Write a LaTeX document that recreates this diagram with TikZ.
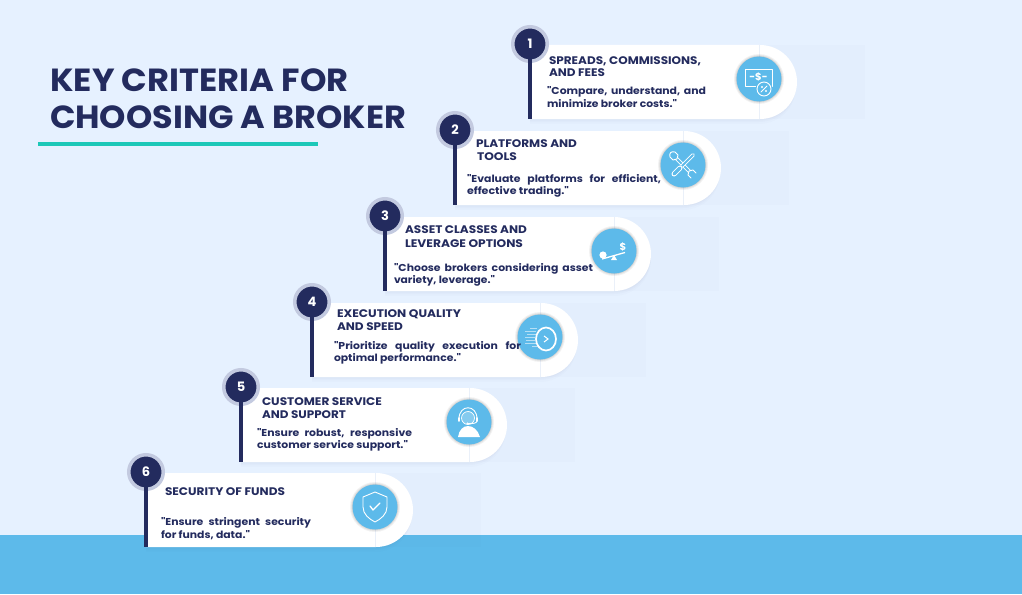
\documentclass[tikz,border=0pt]{standalone}
\usepackage{fontspec}
\usepackage{graphicx}
\setmainfont{Poppins}[Ligatures=TeXOff]
\definecolor{bgc}{HTML}{E6F1FF}
\definecolor{navy}{HTML}{232B5E}
\definecolor{halo}{HTML}{C3CAE0}
\definecolor{sky}{HTML}{5DBAEA}
\definecolor{teal2}{HTML}{1CC8B8}
\definecolor{seam}{HTML}{EAF0F9}
\tikzset{
  numdot/.style={circle,fill=navy,draw=halo,line width=3.5pt,minimum size=34.5pt,inner sep=0pt,outer sep=0pt,text=white,font=\bfseries\fontsize{13}{13}\selectfont},
  stem/.style={draw=navy,line width=4pt,shorten <=-2pt},
  headtxt/.style={anchor=base west,inner sep=0pt,outer sep=0pt,text=navy,font=\bfseries\fontsize{11}{11}\selectfont},
  bodytxt/.style={anchor=base west,inner sep=0pt,outer sep=0pt,text=navy,font=\bfseries\fontsize{10}{10}\selectfont},
  titletxt/.style={anchor=base west,inner sep=0pt,outer sep=0pt,text=navy,font=\bfseries\fontsize{32}{32}\selectfont},
  ico/.style={draw=white,line width=.9pt,line cap=round,line join=round},
  ghostbox/.style={fill=navy,opacity=.012}
}
% name, stem x, top, right end, icon x
\newcommand{\stepcard}[5]{%
  \fill[ghostbox] (#4-37,#3) rectangle (#4+68,#3+74);
  \foreach \o/\a in {5/.012,3/.015,1.5/.02}{
    \fill[navy,opacity=\a] (#2,#3+\o) -- (#5,#3+\o) arc[start angle=-90,end angle=90,radius=37] -- (#2,#3+74+\o) -- cycle;
  }
  \fill[white] (#2,#3) -- (#5,#3) -- (#4-37,#3) arc[start angle=-90,end angle=90,radius=37] -- (#2,#3+74) -- cycle;
  \draw[seam,line width=.6pt] (#5,#3) -- (#5,#3+74);
  \node[numdot] (num#1) at (#2,#3-1) {#1};
  \coordinate (base#1) at (#2,#3+74);
  \draw[stem] (num#1.south) -- (base#1);
  \foreach \r/\a in {25/.05,24/.06,23/.08}{\fill[black,opacity=\a] (#5,#3+34) circle[radius=\r];}
  \fill[sky] (#5,#3+34) circle[radius=22.5];
}
\newcommand{\hl}[5]{\node[headtxt] (#1) at (#2,#3) {\resizebox{#4pt}{\height}{#5}};}
\newcommand{\bl}[5]{\node[bodytxt] (#1) at (#2,#3) {\resizebox{#4pt}{\height}{#5}};}
\newcommand{\bj}[5]{\node[bodytxt] (#1) at (#2,#3) {\resizebox{#4pt}{\height}{\makebox[\dimexpr#4pt*92/100\relax][s]{#5}}};}
\begin{document}
\begin{tikzpicture}[x=1pt,y=-1pt]
\useasboundingbox (0,0) rectangle (1022,594);
\fill[bgc] (0,0) rectangle (1022,594);
\fill[sky] (0,535) rectangle (1022,594);

\node[titletxt] (title1) at (50.5,92) {\resizebox{298pt}{\height}{KEY CRITERIA FOR}};
\node[titletxt] (title2) at (50,128) {\resizebox{356pt}{\height}{CHOOSING A BROKER}};
\coordinate (ruleL) at (38,144);
\coordinate (ruleR) at (318,144);
\draw[teal2,line width=4pt] (ruleL) -- (ruleR);

\stepcard{1}{530}{45}{797}{759}
\stepcard{2}{455}{131}{721}{683}
\stepcard{3}{385}{217}{651}{614}
\stepcard{4}{312}{303}{578}{540}
\stepcard{5}{241}{388}{507}{469}
\stepcard{6}{146}{473}{413}{375}

% card 1
\hl{h1a}{549}{64}{152}{SPREADS, COMMISSIONS,}
\hl{h1b}{549}{76.5}{56}{AND FEES}
\bj{b1a}{547}{94}{159}{"Compare, understand, and}
\bl{b1b}{547}{107}{130}{minimize broker costs."}
% card 2
\hl{h2a}{476}{147}{101}{PLATFORMS AND}
\hl{h2b}{477}{160}{40}{TOOLS}
\bj{b2a}{467}{182}{194}{"Evaluate platforms for efficient,}
\bl{b2b}{467}{194}{102}{effective trading."}
% card 3
\hl{h3a}{405}{233}{122}{ASSET CLASSES AND}
\hl{h3b}{405}{247}{118}{LEVERAGE OPTIONS}
\bj{b3a}{394}{271}{199}{"Choose brokers considering asset}
\bl{b3b}{394}{283}{101}{variety, leverage."}
% card 4
\hl{h4a}{337}{317}{124}{EXECUTION QUALITY}
\hl{h4b}{337}{330}{66}{AND SPEED}
\bj{b4a}{334}{349}{187}{"Prioritize quality execution for}
\bl{b4b}{334}{361}{127}{optimal performance."}
% card 5
\hl{h5a}{262}{405}{120}{CUSTOMER SERVICE}
\hl{h5b}{262}{418}{84}{AND SUPPORT}
\bj{b5a}{257}{436}{155}{"Ensure robust, responsive}
\bl{b5b}{257}{448}{151}{customer service support."}
% card 6
\hl{h6a}{165}{495}{120}{SECURITY OF FUNDS}
\bj{b6a}{161}{525}{150}{"Ensure stringent security}
\bl{b6b}{161}{538}{89}{for funds, data."}

% icon 1
\begin{scope}[shift={(759,79)}]
  \draw[ico] (-14,-10) rectangle (13,7);
  \node[inner sep=0pt,text=white,font=\bfseries\fontsize{10}{10}\selectfont] (i1t) at (-0.5,-2) {-\$-};
  \fill[sky] (5,10) circle[radius=8.5];
  \draw[ico] (5,10) circle[radius=7];
  \draw[ico] (8,7) -- (2,13);
  \fill[white] (3,8) circle[radius=1.1] (7,12) circle[radius=1.1];
\end{scope}
% icon 2
\begin{scope}[shift={(683,165)}]
  \draw[white,line width=3.6pt,line cap=round] (-8,-8) -- (9,9);
  \draw[sky,line width=2pt,line cap=round] (-8,-8) -- (9,9);
  \fill[sky] (-9,-9) circle[radius=4] (9,9) circle[radius=4];
  \draw[ico] (-13,-8) -- (-10,-5) -- (-6,-6) -- (-5,-10) -- (-8,-13) (-13,-8) .. controls (-14,-12) and (-12,-14) .. (-8,-13);
  \draw[ico] (13,8) -- (10,5) -- (6,6) -- (5,10) -- (8,13);
  \fill[sky] (10,-12) -- (12,-10) -- (-1,3) -- (-3,1) -- cycle;
  \draw[white,line width=3.6pt,line cap=round] (10,-10) -- (-1,1);
  \draw[sky,line width=2pt,line cap=round] (10,-10) -- (-1,1);
  \draw[white,line width=5pt,line cap=round] (-3,3) -- (-9,9);
  \draw[sky,line width=3.4pt,line cap=round] (-3,3) -- (-9,9);
\end{scope}
% icon 3
\begin{scope}[shift={(614,251)}]
  \fill[white] (-11,4) circle[radius=3.6];
  \draw[white,line width=1.3pt] (-12,8) -- (11,1.5);
  \fill[white] (0,4) -- (3,9) -- (-3,9) -- cycle;
  \node[inner sep=0pt,text=white,font=\bfseries\fontsize{10}{10}\selectfont] (i3t) at (9,-4) {\$};
\end{scope}
% icon 4
\begin{scope}[shift={(540,337)}]
  \foreach \y/\a/\b in {-9/-10/-3,-6/-15/-4,-3/-13/-4,0/-15/-5,3/-14/-5,6/-15/-3,9/-8/0}{
    \draw[white,opacity=.55,line width=.7pt] (\a,\y) -- (\b,\y);
  }
  \draw[white,line width=1.7pt] (6,2) ellipse[x radius=10,y radius=11.5];
  \draw[white,line width=1pt] (4,-1) -- (8,2) -- (4,5);
\end{scope}
% icon 5
\begin{scope}[shift={(469,422)}]
  \fill[white,opacity=.25] (-1,-4) circle[radius=6.5];
  \draw[ico,line width=.7pt] (-1,-4) circle[radius=6.5];
  \fill[white] (-11,15) .. controls (-10,8) and (-6,4) .. (-1,4) .. controls (4,4) and (9,8) .. (11,15) -- cycle;
  \draw[ico] (-10,-3) .. controls (-10,-18) and (8,-18) .. (8,-3);
  \draw[ico,line width=1.8pt] (-10,-4) -- (-10,-1);
  \draw[ico,line width=1.8pt] (8,-4) -- (8,-1);
  \draw[ico] (8,-1) .. controls (8,1) and (4,2) .. (-1,1.5);
  \fill[white] (-1.5,1.5) circle[radius=1.2];
\end{scope}
% icon 6
\begin{scope}[shift={(375,507)}]
  \draw[ico] (0,-15) -- (12,-10) -- (12,0) .. controls (12,7) and (6,12) .. (0,15) .. controls (-6,12) and (-12,7) .. (-12,0) -- (-12,-10) -- cycle;
  \draw[ico,line width=1.3pt] (-5,-1) -- (-2,3) -- (5,-4);
\end{scope}
\end{tikzpicture}
\end{document}
